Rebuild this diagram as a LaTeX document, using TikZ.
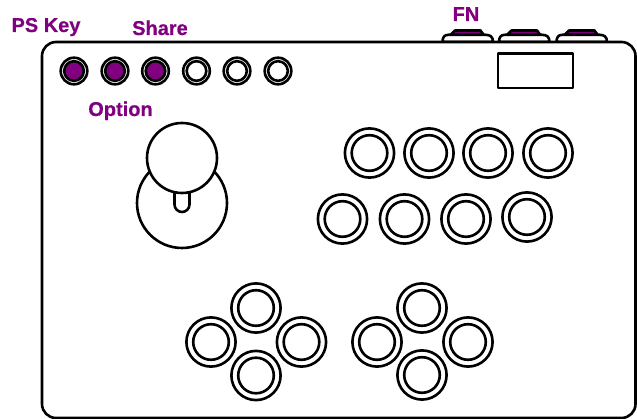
\documentclass[tikz,border=0pt]{standalone}
\usepackage{fontspec}
\setmainfont[BoldFeatures={FakeBold=0.5}]{Liberation Sans}
\definecolor{lbl}{HTML}{800080}
\tikzset{
  x=1pt,y=-1pt,
  outl/.style={draw=black,line width=2.6pt,fill=white},
  lab/.style={text=lbl,font=\fontsize{20pt}{20pt}\selectfont\bfseries,inner sep=0pt,anchor=base}
}
\newcommand{\bigbtn}[2]{%
  \draw[outl] (#1,#2) circle[radius=24.6];
  \draw[outl] (#1,#2) circle[radius=17.8];}
\newcommand{\smallbtn}[3]{%
  \draw[outl] (#1,#2) circle[radius=13.3];
  \draw[outl,fill=#3] (#1,#2) circle[radius=9.8];}
\newcommand{\topbtn}[1]{%
  \begin{scope}[shift={(#1,0)}]
  \draw[outl,fill=lbl,line join=round] (-18,36) -- (-12.5,30.5) -- (13,30.5) -- (17,36) -- cycle;
  \draw[outl,line join=round] (-25,42) .. controls (-25,37) and (-23,34.8) .. (-19,34.8) -- (18,34.8) .. controls (23,34.8) and (25.5,37) .. (25.5,42) -- cycle;
  \end{scope}}
\begin{document}
\begin{tikzpicture}
\useasboundingbox[fill=white] (0,0) rectangle (637,419);
\topbtn{467.5}
\topbtn{524}
\topbtn{581.5}
\draw[outl] (42,418) [rounded corners=14pt] -- (42,42) -- (635.5,42) -- (635.5,418) -- cycle;
\smallbtn{74}{71}{lbl}
\smallbtn{115}{71}{lbl}
\smallbtn{155.5}{71}{lbl}
\smallbtn{196.5}{71}{white}
\smallbtn{237}{71}{white}
\smallbtn{278}{71}{white}
\draw[outl,line join=round] (498,53.5) rectangle (573,88);
% stick
\draw[outl] (182,203) circle[radius=45];
\draw[outl] (174.5,190) -- (174.5,204.5) arc[start angle=180,end angle=0,radius=7.5] -- (189.5,190);
\draw[outl] (182,158) circle[radius=35];
% main buttons
\bigbtn{369.5}{153}
\bigbtn{429}{153}
\bigbtn{488}{153}
\bigbtn{548}{153}
\bigbtn{342.5}{219}
\bigbtn{404.5}{219}
\bigbtn{466}{219}
\bigbtn{527}{217}
% left cluster
\bigbtn{256}{308}
\bigbtn{211}{342}
\bigbtn{301.5}{342}
\bigbtn{256}{375.5}
% right cluster
\bigbtn{422}{308}
\bigbtn{377}{342}
\bigbtn{468}{342}
\bigbtn{422}{375}
% labels
\node[lab] (ps) at (46,32) {PS Key};
\node[lab] (share) at (160,35) {Share};
\node[lab] (option) at (120.5,116) {Option};
\node[lab] (fn) at (466,21) {FN};
\end{tikzpicture}
\end{document}
